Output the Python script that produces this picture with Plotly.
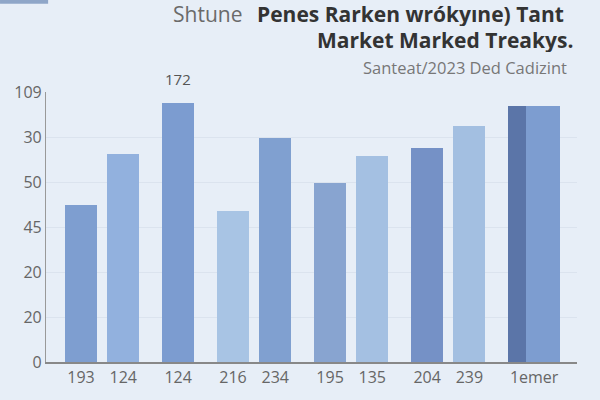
import plotly.graph_objects as go

# ---- data ----
groups = [["193", "124"], ["124"], ["216", "234"], ["195", "135"], ["204", "239"], ["1emer"]]
values = [70, 92.4, 115, 67.2, 99.4, 79.6, 91.6, 95, 104.8, 113.6]
bar_colors = ["#7e9ed0", "#92b1de", "#7c9cd0", "#a8c4e4", "#80a0d0",
              "#88a4d0", "#a4c0e2", "#7591c6", "#a3bfe1", "#7d9dd0"]
top_label = "172"
y_tickvals = [0, 20, 40, 60, 80, 100, 120]
y_ticktext = ["0", "20", "20", "45", "50", "30", "109"]

# ---- layout of categories (grouped spacing) ----
BAR_W = 0.76
LAST_W = 1.23
GROUP_GAP = 0.3
labels, positions = [], []
p = 0.0
for g in groups:
    for lab in g:
        labels.append(lab)
        positions.append(p)
        p += 1
    p += GROUP_GAP

widths = [BAR_W] * (len(values) - 1) + [LAST_W]
offsets = [-BAR_W / 2] * len(values)
centers = [x + o + w / 2 for x, o, w in zip(positions, offsets, widths)]

BG = "#e7eef7"
FONT = "Open Sans"

fig = go.Figure()
fig.add_trace(go.Bar(
    x=positions, y=values, width=widths, offset=offsets,
    marker=dict(color=bar_colors, line=dict(width=0)),
    showlegend=False, hoverinfo="skip",
))
# darker left strip on last bar
fig.add_trace(go.Bar(
    x=[positions[-1]], y=[values[-1]], width=[0.43], offset=[-BAR_W / 2],
    marker=dict(color="#5b75a8", line=dict(width=0)),
    showlegend=False, hoverinfo="skip",
))

fig.add_annotation(x=positions[2], y=values[2], text=top_label, showarrow=False,
                   yanchor="bottom", yshift=12,
                   font=dict(size=15, color="#555"))

# title: regular prefix + bold lines
fig.add_annotation(
    xref="paper", yref="paper", x=0.373, y=1.289, xanchor="right", yanchor="middle",
    showarrow=False, text="Shtune", height=24,
    font=dict(family=FONT, size=21, color="#6a6a6a"),
)
fig.add_annotation(
    xref="paper", yref="paper", x=0.98, y=1.289, xanchor="right", yanchor="middle",
    showarrow=False, align="right", height=24,
    text="<b>Penes Rarken wrókyıne) Tant</b>",
    font=dict(family=FONT, size=21, color="#333"),
)
fig.add_annotation(
    xref="paper", yref="paper", x=0.996, y=1.193, xanchor="right", yanchor="middle",
    showarrow=False, align="right", height=24,
    text="<b>Market Marked Treakys.</b>",
    font=dict(family=FONT, size=21, color="#333"),
)
fig.add_annotation(
    xref="paper", yref="paper", x=0.984, y=1.089, xanchor="right", yanchor="middle",
    showarrow=False, text="Santeat/2023 Ded Cadizint",
    font=dict(family=FONT, size=16.5, color="#777"),
)

fig.update_layout(
    width=600, height=400,
    margin=dict(l=46, r=23, t=92, b=36),
    paper_bgcolor=BG, plot_bgcolor=BG,
    barmode="overlay", bargap=0,
    font=dict(family=FONT, size=15, color="#666"),
    showlegend=False,
    shapes=[dict(type="rect", xref="paper", yref="paper", x0=-0.0866, x1=0.004, y0=1.327, y1=1.36,
                 fillcolor="#8fa6c8", line=dict(width=0), layer="above")],
)

fig.update_xaxes(
    range=[-0.83, 11.75], tickvals=centers, ticktext=labels,
    showline=True, linecolor="#888", linewidth=1.5, showgrid=False,
    ticks="", tickfont=dict(size=16, color="#666"), zeroline=False,
)
fig.update_yaxes(
    range=[0, 120], tickvals=y_tickvals, ticktext=y_ticktext,
    showline=True, linecolor="#999", linewidth=1.2,
    showgrid=True, gridcolor="#dbe3ee", gridwidth=1,
    ticks="", tickfont=dict(size=16, color="#666"), zeroline=False,
)

fig.write_html(
    "out.html",
    config={"displayModeBar": False},
    post_script="document.body.style.margin='0';document.body.style.background='%s';" % BG,
)
